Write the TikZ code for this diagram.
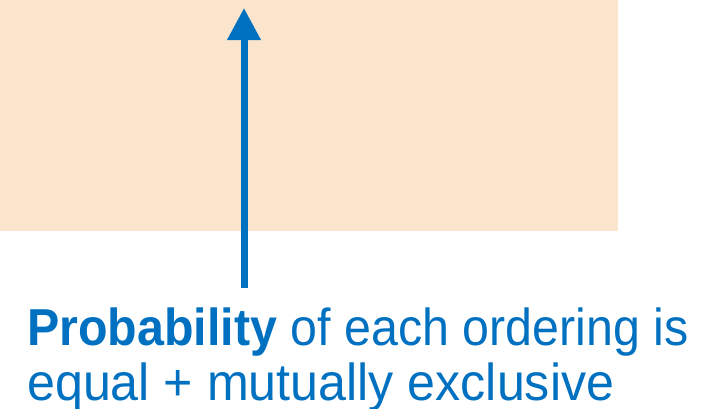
\documentclass[tikz,border=0pt]{standalone}
\usepackage{fontspec}
\setmainfont{Liberation Sans}
\newfontfamily\lineonefont{Liberation Sans}[FakeStretch=0.93]
\newfontfamily\linetwofont{Liberation Sans}[FakeStretch=0.965]
\usetikzlibrary{arrows.meta}
\definecolor{peach}{HTML}{FAE5CC}
\definecolor{myblue}{HTML}{0070C0}
\tikzset{
  lbl/.style={anchor=base west, inner sep=0pt, text=myblue},
  arr/.style={draw=myblue, line width=7pt, -{Triangle[width=32pt,length=32pt]}}
}
\begin{document}
\begin{tikzpicture}[x=1pt,y=-1pt]
\useasboundingbox (0,0) rectangle (715,408);
\fill[peach] (0,0) rectangle (618,231);
\coordinate (tail) at (244,288);
\coordinate (tip) at (244,8);
\draw[arr] (tail) -- (tip);
\node[lbl, font=\lineonefont\fontsize{52}{55}\selectfont] (l1) at (27,345) {\textbf{Probability} of each ordering is};
\node[lbl, font=\linetwofont\fontsize{52}{55}\selectfont] (l2) at (27,400) {equal + mutually exclusive};
\end{tikzpicture}
\end{document}
